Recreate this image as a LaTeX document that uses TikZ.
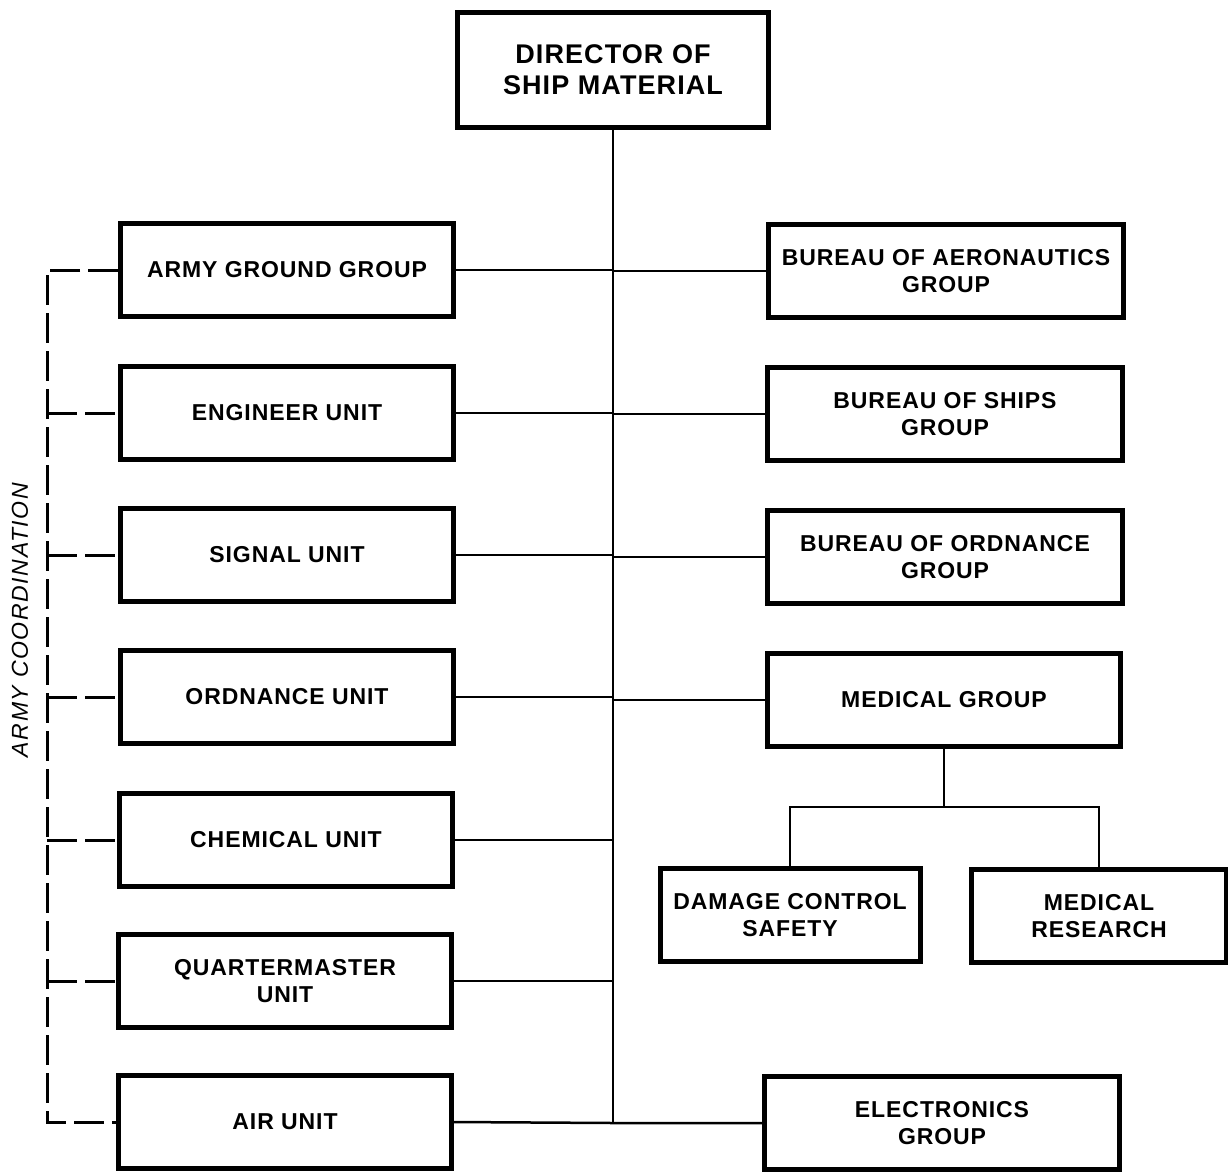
\documentclass[tikz,border=0pt]{standalone}
\usepackage{fontspec}
\setmainfont[LetterSpace=4]{Liberation Sans}
\begin{document}
\begin{tikzpicture}[x=1pt,y=-1pt,
  box/.style={draw,line width=5pt,align=center,font=\bfseries\fontsize{23}{27}\selectfont,minimum height=93pt},
  lbox/.style={box,minimum width=333pt},
  rbox/.style={box,minimum width=355pt},
  link/.style={line width=2.5pt},
  coordline/.style={line width=3pt,dash pattern=on 30pt off 8pt}]
\useasboundingbox (0,0) rectangle (1228,1173);
\node[box,minimum width=311pt,minimum height=115pt,font=\bfseries\fontsize{27}{31}\selectfont] (dir) at (613,70) {DIRECTOR OF\\SHIP MATERIAL};
\node[lbox] (army) at (287,270) {ARMY GROUND GROUP};
\node[lbox] (eng) at (287,413) {ENGINEER UNIT};
\node[lbox] (sig) at (287,555) {SIGNAL UNIT};
\node[lbox] (ord) at (287,697) {ORDNANCE UNIT};
\node[lbox] (chem) at (286,840) {CHEMICAL UNIT};
\node[lbox] (qm) at (285,981) {QUARTERMASTER\\UNIT};
\node[lbox] (air) at (285,1122) {AIR UNIT};
\node[rbox] (aero) at (946,271) {BUREAU OF AERONAUTICS\\GROUP};
\node[rbox] (ships) at (945,414) {BUREAU OF SHIPS\\GROUP};
\node[rbox] (bord) at (945,557) {BUREAU OF ORDNANCE\\GROUP};
\node[rbox,minimum width=353pt] (med) at (944,700) {MEDICAL GROUP};
\node[rbox] (elec) at (942,1123) {ELECTRONICS\\GROUP};
\node[box,minimum width=260pt] (dcs) at (790,915) {DAMAGE CONTROL\\SAFETY};
\node[box,minimum width=255pt] (mres) at (1099,916) {MEDICAL\\RESEARCH};
\node[rotate=90,font=\itshape\fontsize{23}{27}\addfontfeature{LetterSpace=7}\selectfont] (lab) at (20,620) {ARMY COORDINATION};
\coordinate (bot) at (dir.south |- elec.west);
\coordinate (rail) at (47,620);
\draw[link] (dir.south) -- (bot);
\draw[link] (air.east) -- (bot) -- (elec.west);
\foreach \n in {army,eng,sig,ord,chem,qm}
  \draw[link] (\n.east) -- (\n.east -| bot);
\foreach \n in {aero,ships,bord,med}
  \draw[link] (\n.west) -- (\n.west -| bot);
\draw[link] (med.south) -- ++(0,58) coordinate (split);
\draw[link] (dcs.north) |- (split) -| (mres.north);
\draw[coordline] (army.west) -- (army.west -| rail) -- (air.west -| rail) -- (air.west);
\foreach \n in {eng,sig,ord,chem,qm}
  \draw[coordline] (\n.west -| rail) -- (\n.west);
\end{tikzpicture}
\end{document}
